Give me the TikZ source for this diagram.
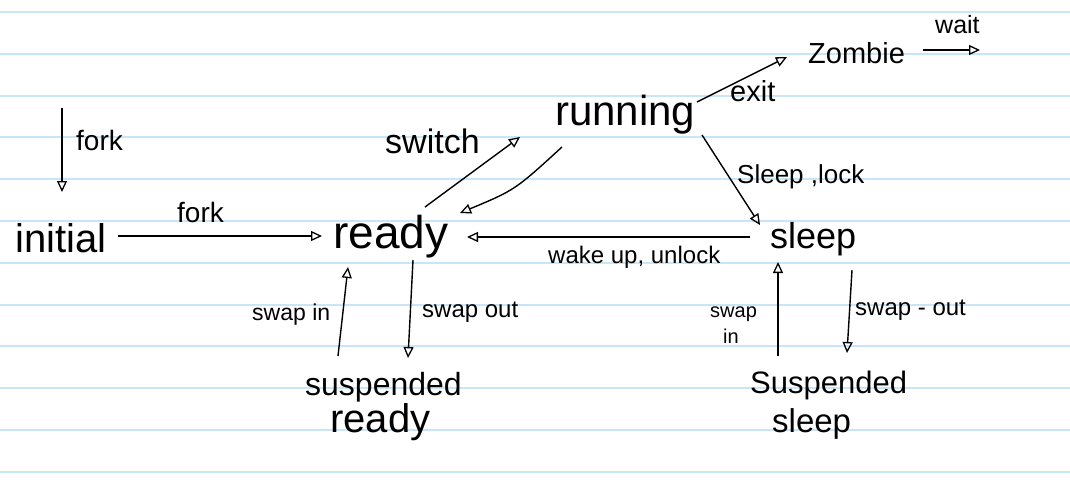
\documentclass[tikz,border=0pt]{standalone}
\usepackage{fontspec}
\setmainfont{Liberation Sans}
\usetikzlibrary{arrows.meta}
\definecolor{rule}{RGB}{200,230,248}
\tikzset{
  stt/.style={anchor=base west, inner sep=0pt, font=\fontsize{#1}{#1}\selectfont},
  lbl/.style={anchor=base west, inner sep=0pt, font=\fontsize{#1}{#1}\selectfont},
  arr/.style={draw=black, line width=1.4pt, -{Triangle[open, length=11pt, width=10pt, line width=1.3pt]}},
}
\begin{document}
\begin{tikzpicture}[x=1pt, y=-1pt]
\useasboundingbox (0,0) rectangle (1070,482);
\fill[white] (0,0) rectangle (1070,482);
\foreach \k in {0,...,11} {
  \draw[rule, line width=2pt] (0,{12+41.8*\k}) -- (1070,{12+41.8*\k});
}
% states
\node[stt=40] (initial) at (15,252) {initial};
\node[stt=46] (ready) at (333,248) {ready};
\node[stt=42] (running) at (555,125) {running};
\node[stt=29] (zombie) at (808,63) {Zombie};
\node[stt=36] (sleep) at (770,248) {sleep};
\node[stt=32] (susr) at (305,395) {suspended};
\node[stt=40] (susr2) at (330,432) {ready};
\node[stt=31] (suss) at (750,393) {Suspended};
\node[stt=33] (suss2) at (772,432) {sleep};
\coordinate (forktop) at (62,108);
\coordinate (waitend) at (980,50);
% labels
\node[lbl=28] (lfork1) at (76,150) {fork};
\node[lbl=28] (lfork2) at (177,222) {fork};
\node[lbl=34] (lswitch) at (385,153) {switch};
\node[lbl=29] (lexit) at (730,101) {exit};
\node[lbl=25] (lwait) at (935,33) {wait};
\node[lbl=26] (lsleeplock) at (737,183) {Sleep ,lock};
\node[lbl=24] (lwake) at (548,263) {wake up, unlock};
\node[lbl=23] (lswapin) at (252,320) {swap in};
\node[lbl=24] (lswapout) at (422,317) {swap out};
\node[lbl=20] (lswap2) at (710,317) {swap};
\node[lbl=20] (lin2) at (723,343) {in};
\node[lbl=24] (lswapout2) at (855,315) {swap - out};
% connectors
\draw[arr] (forktop) -- ([shift={(47,-60)}]initial.base west);
\draw[arr] ([shift={(103,-16)}]initial.base west) -- ([shift={(-11,-12)}]ready.base west);
\draw[arr] ([shift={(92,-41)}]ready.base west) -- ([shift={(-35,12)}]running.base west);
\draw[arr] ([shift={(7,22)}]running.base west) .. controls ([shift={(-40,65)}]running.base west) .. ([shift={(127,-35)}]ready.base west);
\draw[arr] ([shift={(-20,-11)}]sleep.base west) -- ([shift={(134,-11)}]ready.base west);
\draw[arr] ([shift={(80,12)}]ready.base west) -- ([shift={(103,-37)}]susr.base west);
\draw[arr] ([shift={(33,-39)}]susr.base west) -- ([shift={(15,19)}]ready.base west);
\draw[arr] ([shift={(142,-23)}]running.base west) -- ([shift={(-21,-6)}]zombie.base west);
\draw[arr] ([shift={(115,-13)}]zombie.base west) -- (waitend);
\draw[arr] ([shift={(147,10)}]running.base west) -- ([shift={(-10,-23)}]sleep.base west);
\draw[arr] ([shift={(28,-37)}]suss.base west) -- ([shift={(8,14)}]sleep.base west);
\draw[arr] ([shift={(82,22)}]sleep.base west) -- ([shift={(97,-40)}]suss.base west);
\end{tikzpicture}
\end{document}
